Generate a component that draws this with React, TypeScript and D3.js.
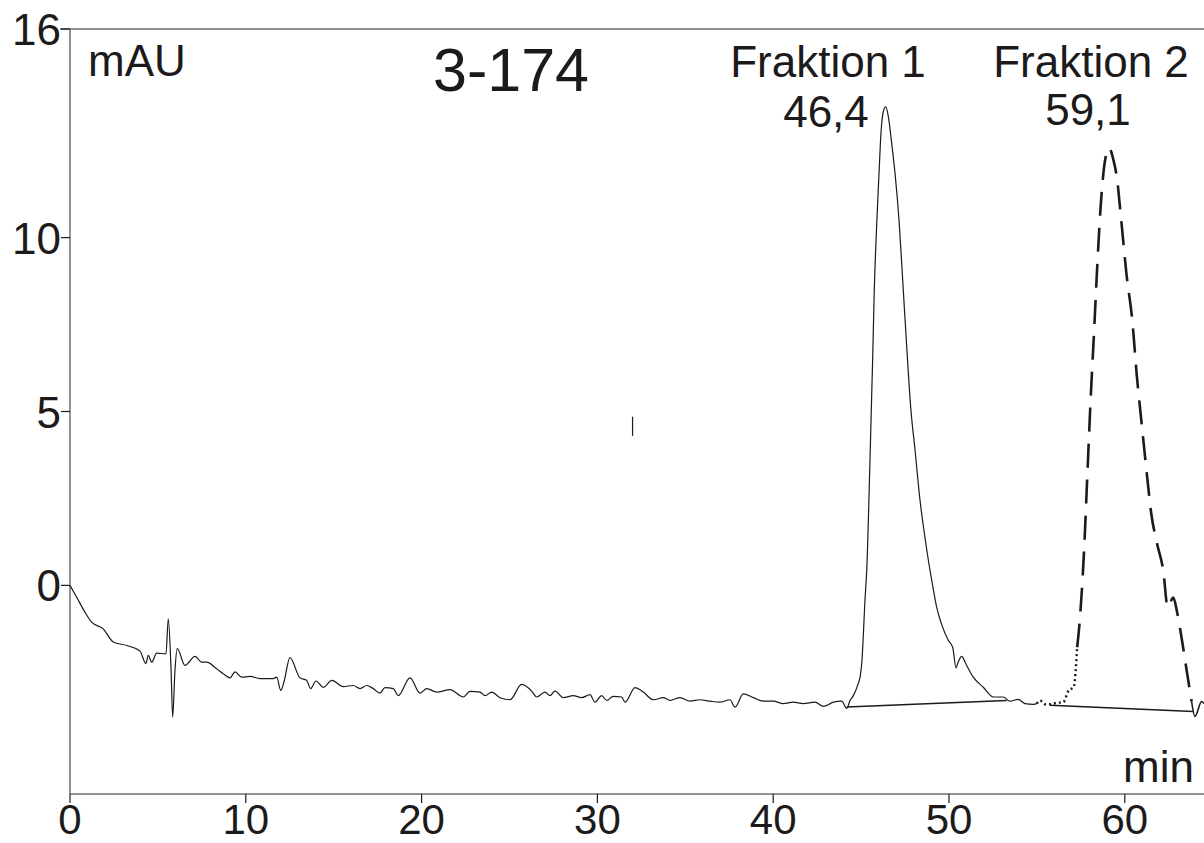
import React from "react";
import * as d3 from "d3";

// Chromatogram 3-174: UV trace with two collected fractions
const WIDTH = 1204;
const HEIGHT = 843;

const timeDomain: [number, number] = [0, 64.5];
const signalDomain: [number, number] = [-6, 16];
const timeTicks = [0, 10, 20, 30, 40, 50, 60];
const signalTicks = [0, 5, 10, 16];

// [time (min), signal (mAU)] — baseline drift and fraction 1, solid trace
const mainTrace: [number, number][] = [
  [0, 0], [0.38, -0.34], [0.85, -0.77], [1.23, -1.06], [1.89, -1.25], [2.46, -1.63],
  [3.23, -1.73], [3.98, -1.89], [4.32, -2.25], [4.45, -2.01], [4.65, -2.21], [4.93, -1.95],
  [5.46, -1.97], [5.59, -0.96], [5.75, -2.45], [5.84, -3.79], [5.97, -2.45], [6.1, -1.82],
  [6.54, -2.3], [7.11, -2.04], [7.49, -2.21], [7.78, -2.21], [8.34, -2.4], [8.72, -2.54],
  [9.1, -2.66], [9.39, -2.49], [9.77, -2.64], [10.24, -2.62], [10.81, -2.68], [11.56, -2.68],
  [11.76, -2.64], [11.99, -3.02], [12.17, -2.78], [12.51, -2.08], [13.08, -2.66], [13.46, -2.73],
  [13.69, -2.97], [13.99, -2.75], [14.41, -2.93], [14.89, -2.73], [15.55, -2.91], [16.11, -2.88],
  [16.5, -2.97], [16.88, -2.88], [17.25, -2.97], [17.63, -3.1], [17.92, -2.94], [18.39, -2.97],
  [18.67, -3.17], [19.34, -2.66], [19.91, -3.1], [20.29, -2.97], [20.86, -3.07], [21.62, -3.0],
  [22.37, -3.21], [22.75, -3.05], [23.32, -3.07], [23.61, -3.17], [23.99, -3.07], [24.46, -3.23],
  [25.03, -3.29], [25.69, -2.85], [26.26, -3.04], [26.55, -3.21], [27.02, -3.07], [27.3, -3.17],
  [27.59, -3.04], [28.06, -3.23], [28.63, -3.17], [29.11, -3.23], [29.58, -3.14], [29.86, -3.36],
  [30.24, -3.17], [30.53, -3.31], [30.9, -3.19], [31.38, -3.21], [31.57, -3.36], [32.14, -2.94],
  [32.61, -3.07], [33.18, -3.29], [33.75, -3.23], [34.13, -3.31], [34.7, -3.23], [35.27, -3.33],
  [35.84, -3.29], [36.4, -3.33], [36.97, -3.36], [37.54, -3.29], [37.83, -3.5], [38.3, -3.12],
  [38.87, -3.23], [39.44, -3.33], [40.01, -3.33], [40.57, -3.4], [41.14, -3.36], [41.71, -3.4],
  [42.38, -3.36], [42.85, -3.48], [43.42, -3.36], [43.9, -3.33], [44.18, -3.54], [44.37, -3.31],
  [44.56, -3.17], [44.84, -2.82], [44.94, -2.64], [45.05, -2.16], [45.13, -1.39], [45.22, -0.43],
  [45.32, 0.43], [45.51, 3.69], [45.66, 6.57], [45.75, 8.49], [45.89, 10.41], [46.02, 11.85],
  [46.13, 13.0], [46.26, 13.62], [46.4, 13.76], [46.55, 13.48], [46.74, 12.71], [46.93, 11.85],
  [47.17, 10.41], [47.4, 8.49], [47.63, 6.57], [47.82, 5.13], [48.07, 3.88], [48.35, 2.45],
  [48.63, 1.39], [48.92, 0.43], [49.02, 0.14], [49.3, -0.63], [49.6, -1.15], [49.96, -1.58],
  [50.21, -1.78], [50.4, -2.37], [50.51, -2.22], [50.72, -2.04], [50.97, -2.27], [51.38, -2.64],
  [51.95, -2.93], [52.52, -3.21], [53.09, -3.21], [53.47, -3.33], [53.94, -3.28], [54.32, -3.4],
  [54.8, -3.42], [54.99, -3.4],
];

// Fraction 2 — rising foot (dotted)
const fraction2Foot: [number, number][] = [
  [54.99, -3.4], [55.18, -3.31], [55.46, -3.42], [55.74, -3.42], [56.1, -3.38], [56.5, -3.36],
  [56.81, -3.02], [57.1, -2.93], [57.19, -2.54], [57.29, -1.78],
];

// Fraction 2 — main peak (dashed)
const fraction2Peak: [number, number][] = [
  [57.29, -1.78], [57.4, -1.24], [57.68, 0.97], [57.87, 3.18], [58.06, 5.39], [58.25, 7.27],
  [58.44, 9.26], [58.63, 10.92], [58.82, 12.02], [59.1, 12.58], [59.35, 12.24], [59.56, 11.69],
  [59.76, 10.7], [60.1, 8.93], [60.43, 7.6], [60.68, 6.05], [60.92, 4.84], [61.26, 3.18],
  [61.5, 2.08], [61.84, 1.19], [62.19, 0.42], [62.44, -0.63], [62.76, -0.35], [62.98, -0.79],
  [63.25, -1.57], [63.52, -2.45], [63.8, -3.34],
];

// Trace after fraction 2
const tailTrace: [number, number][] = [
  [63.8, -3.34], [63.99, -3.77], [64.37, -3.34], [64.5, -3.4],
];

// Integration baselines under each fraction
const fraction1Baseline: [number, number][] = [[44.18, -3.5], [53.28, -3.31]];
const fraction2Baseline: [number, number][] = [[55.74, -3.45], [63.9, -3.63]];

// Event marker
const eventMarker: [number, number][] = [[32.0, 4.3], [32.0, 4.85]];

const fractionNames = ["Fraktion 1", "Fraktion 2"];
const fractionTimes = ["46,4", "59,1"];

const FONT = "'Liberation Sans', Arial, Helvetica, sans-serif";
const INK = "#1c1a1a";
const AXIS = "#6e6e6e";

export default function App() {
  const left = 70;
  const top = 29;
  const bottom = 794;
  const pxPerMin = 17.58;

  const x = d3.scaleLinear().domain(timeDomain).range([left, left + (timeDomain[1] - timeDomain[0]) * pxPerMin]);
  const y = d3.scaleLinear().domain(signalDomain).range([bottom, top]);

  const line = d3
    .line<[number, number]>()
    .x((d) => x(d[0]))
    .y((d) => y(d[1]))
    .curve(d3.curveMonotoneX);
  const straight = d3
    .line<[number, number]>()
    .x((d) => x(d[0]))
    .y((d) => y(d[1]));

  // label anchors (horizontal centres, baselines)
  const labelPos = [
    { cx: 828, cy: 77, tx: 826, ty: 127 },
    { cx: 1091, cy: 77, tx: 1088, ty: 125 },
  ];

  return (
    <svg
      width={WIDTH}
      height={HEIGHT}
      viewBox={`0 0 ${WIDTH} ${HEIGHT}`}
      style={{ position: "absolute", left: 0, top: 0, display: "block", background: "#fff" }}
    >
      {/* frame: top rule, left axis, bottom axis */}
      <line x1={left - 10} x2={WIDTH} y1={top} y2={top} stroke={AXIS} strokeWidth={1.5} />
      <line x1={left} x2={left} y1={top} y2={bottom} stroke={AXIS} strokeWidth={1.5} />
      <line x1={left} x2={WIDTH} y1={bottom} y2={bottom} stroke={AXIS} strokeWidth={1.5} />

      {/* y ticks and labels */}
      {signalTicks.map((v) => (
        <g key={`y${v}`}>
          <line x1={left - 9} x2={left} y1={y(v)} y2={y(v)} stroke={INK} strokeWidth={1.2} />
          <text
            x={left - 9}
            y={y(v) + 16}
            textAnchor="end"
            fontFamily={FONT}
            fontSize={44}
            fill={INK}
          >
            {v}
          </text>
        </g>
      ))}

      {/* x ticks and labels */}
      {timeTicks.map((t) => (
        <g key={`x${t}`}>
          <line x1={x(t)} x2={x(t)} y1={bottom} y2={bottom + 9} stroke={INK} strokeWidth={1.2} />
          <text x={x(t)} y={834} textAnchor="middle" fontFamily={FONT} fontSize={42} fill={INK}>
            {t}
          </text>
        </g>
      ))}

      {/* units and sample name */}
      <text x={88} y={76} fontFamily={FONT} fontSize={44} fill={INK}>
        mAU
      </text>
      <text x={1194} y={782} textAnchor="end" fontFamily={FONT} fontSize={44} fill={INK}>
        min
      </text>
      <text x={433} y={91} fontFamily={FONT} fontSize={61} fill={INK}>
        3-174
      </text>

      {/* event marker */}
      <path d={straight(eventMarker) ?? ""} stroke={INK} strokeWidth={1.2} fill="none" />

      {/* integration baselines */}
      <path d={straight(fraction1Baseline) ?? ""} stroke={INK} strokeWidth={1.5} fill="none" />
      <path d={straight(fraction2Baseline) ?? ""} stroke={INK} strokeWidth={1.5} fill="none" />

      {/* signal trace */}
      <path d={line(mainTrace) ?? ""} stroke={INK} strokeWidth={1.2} fill="none" strokeLinejoin="round" />
      <path
        d={line(fraction2Foot) ?? ""}
        stroke={INK}
        strokeWidth={2.4}
        strokeDasharray="2 3"
        fill="none"
      />
      <path
        d={line(fraction2Peak) ?? ""}
        stroke={INK}
        strokeWidth={2.6}
        strokeDasharray="24 12"
        fill="none"
      />
      <path d={line(tailTrace) ?? ""} stroke={INK} strokeWidth={1.6} fill="none" />

      {/* fraction labels */}
      {fractionNames.map((name, i) => (
        <g key={name}>
          <text
            x={labelPos[i].cx}
            y={labelPos[i].cy}
            textAnchor="middle"
            fontFamily={FONT}
            fontSize={44}
            fill={INK}
          >
            {name}
          </text>
          <text
            x={labelPos[i].tx}
            y={labelPos[i].ty}
            textAnchor="middle"
            fontFamily={FONT}
            fontSize={44}
            fill={INK}
          >
            {fractionTimes[i]}
          </text>
        </g>
      ))}
    </svg>
  );
}
